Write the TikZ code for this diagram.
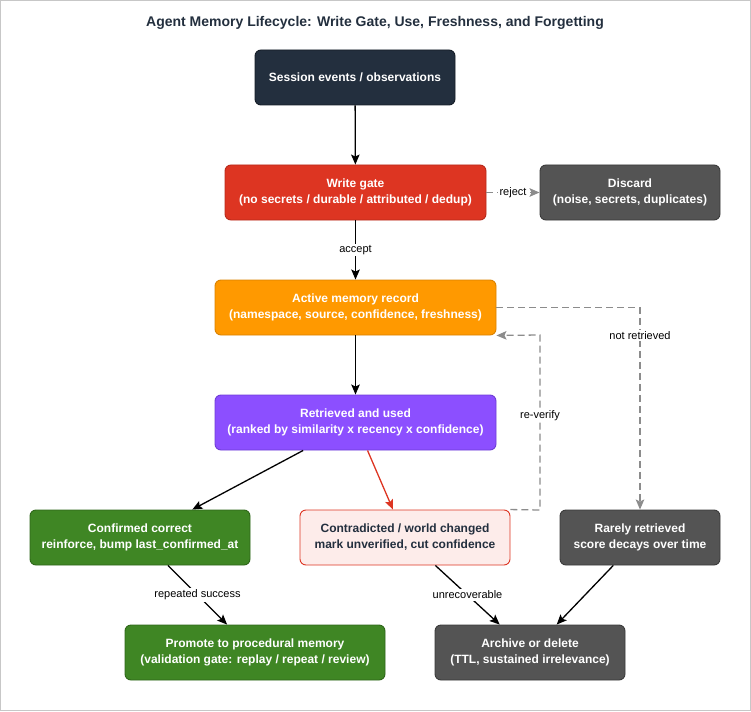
\documentclass[tikz,border=0pt]{standalone}
\usepackage{fontspec}
\setmainfont{Liberation Sans}
\usetikzlibrary{arrows.meta}
\definecolor{navy}{HTML}{232F3E}
\definecolor{navyb}{HTML}{151D27}
\definecolor{wred}{HTML}{DD3522}
\definecolor{wredb}{HTML}{B72A1B}
\definecolor{dgray}{HTML}{545454}
\definecolor{dgrayb}{HTML}{3A3A3A}
\definecolor{orng}{HTML}{FF9900}
\definecolor{orngb}{HTML}{D98200}
\definecolor{purp}{HTML}{8C4FFF}
\definecolor{purpb}{HTML}{6F3DD6}
\definecolor{grn}{HTML}{3F8624}
\definecolor{grnb}{HTML}{2E6619}
\definecolor{pink}{HTML}{FDECEA}
\definecolor{dash}{HTML}{8C8C8C}
\tikzset{
  box/.style={rectangle, rounded corners=6pt, line width=0.9pt, inner sep=0pt,
    align=center, text=white, font=\fontsize{12}{16}\selectfont\bfseries},
  arr/.style={line width=1.3pt, -{Stealth[length=10pt,width=8.5pt,inset=2pt]}},
  darr/.style={line width=1.3pt, draw=dash, dash pattern=on 7pt off 4pt,
    -{Stealth[length=10pt,width=8.5pt,inset=2pt,fill=dash]}},
  lbl/.style={fill=white, inner sep=1.5pt, text=black, font=\fontsize{11}{13}\selectfont},
}
\begin{document}
\begin{tikzpicture}[x=1pt,y=-1pt]
\useasboundingbox (0,0) rectangle (751,711);
\draw[line width=1pt, draw=black!22] (0.5,0.5) rectangle (750.5,710.5);
\node (title) at (375,23) [text=navy, font=\fontsize{14}{17}\selectfont\bfseries]
  {Agent Memory Lifecycle: Write Gate, Use, Freshness, and Forgetting};

\node[box, fill=navy, draw=navyb, minimum width=200pt, minimum height=55pt] (sess) at (355,77.5)
  {Session events / observations};
\node[box, fill=wred, draw=wredb, minimum width=261pt, minimum height=55pt] (gate) at (355.5,192.5)
  {Write gate\\(no secrets / durable / attributed / dedup)};
\node[box, fill=dgray, draw=dgrayb, minimum width=180pt, minimum height=55pt] (disc) at (630,192.5)
  {Discard\\(noise, secrets, duplicates)};
\node[box, fill=orng, draw=orngb, minimum width=281pt, minimum height=55pt] (act) at (355.5,307.5)
  {Active memory record\\(namespace, source, confidence, freshness)};
\node[box, fill=purp, draw=purpb, minimum width=281pt, minimum height=55pt] (ret) at (355.5,422.5)
  {Retrieved and used\\(ranked by similarity x recency x confidence)};
\node[box, fill=grn, draw=grnb, minimum width=220pt, minimum height=55pt] (conf) at (140,537.5)
  {Confirmed correct\\reinforce, bump last\_confirmed\_at};
\node[box, fill=pink, draw=wred, text=navy, minimum width=210pt, minimum height=55pt] (contra) at (405,537.5)
  {Contradicted / world changed\\mark unverified, cut confidence};
\node[box, fill=dgray, draw=dgrayb, minimum width=160pt, minimum height=55pt] (rare) at (640,537.5)
  {Rarely retrieved\\score decays over time};
\node[box, fill=grn, draw=grnb, minimum width=260pt, minimum height=55pt] (prom) at (255,652.5)
  {Promote to procedural memory\\(validation gate: replay / repeat / review)};
\node[box, fill=dgray, draw=dgrayb, minimum width=190pt, minimum height=55pt] (arch) at (530,652.5)
  {Archive or delete\\(TTL, sustained irrelevance)};

\coordinate (rv1) at (540,510);
\coordinate (rv2) at (540,335);

\draw[arr] (sess) -- (gate);
\draw[darr] (gate) -- node[lbl] {reject} (disc);
\draw[arr] (gate) -- node[lbl] {accept} (act);
\draw[arr] (act) -- (ret);
\draw[arr] (ret) -- (conf);
\draw[arr, draw=wred, -{Stealth[length=10pt,width=8.5pt,inset=2pt,fill=wred]}] (ret) -- (contra);
\draw[darr] (contra.north east) -- (rv1) -- node[lbl, pos=0.54] {re-verify} (rv2) -- (act.south east);
\draw[darr] (act.east) -| node[lbl, pos=0.57] {not retrieved} (rare.north);
\draw[arr] (conf) -- node[lbl] {repeated success} (prom);
\draw[arr] (contra) -- node[lbl] {unrecoverable} (arch);
\draw[arr] (rare) -- (arch);
\end{tikzpicture}
\end{document}
